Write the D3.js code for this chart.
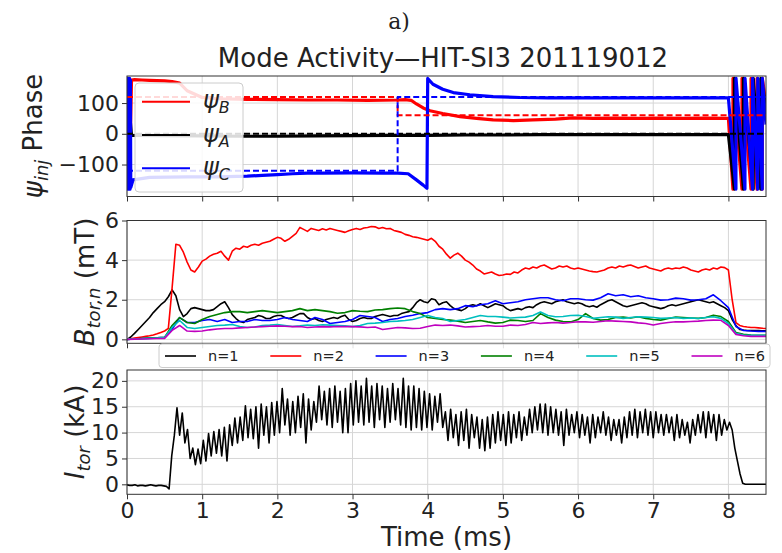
<!DOCTYPE html>
<html>
<head>
<meta charset="utf-8">
<script src="https://cdn.jsdelivr.net/npm/d3@7"></script>
<style>
  body { margin: 0; background: #fff; }
  svg { display: block; font-family: "DejaVu Sans", sans-serif; }
</style>
</head>
<body>
<div id="chart"></div>
<script>
// ---- values ----
const xTicks = [0, 1, 2, 3, 4, 5, 6, 7, 8];
const phaseTicks = [-100, 0, 100];
const bTicks = [0, 2, 4, 6];
const iTicks = [0, 5, 10, 15, 20];

// injector phases (deg), measured
const psiBTime = [0, 0.03, 0.06, 0.1, 0.2, 0.3, 0.4, 0.5, 0.6, 0.7,
  0.8, 1.0, 1.2, 1.6, 2.0, 2.4, 2.8, 3.2, 3.6, 3.7,
  3.78, 3.85, 3.94, 4.03, 4.2, 4.43, 4.65, 4.87, 5.14, 5.4,
  5.7, 5.93, 6.2, 6.5, 6.8, 7.1, 7.4, 7.7, 8.0, 8.06,
  8.061, 8.18, 8.181, 8.3, 8.301, 8.38, 8.381, 8.45, 8.451, 8.5];
const psiB = [-175, -170, 175, 176, 175, 174, 173, 172, 170, 165,
  140, 118, 114, 112, 111, 110, 110, 109, 110, 111,
  109, 97, 84, 75, 66, 56, 50, 45, 43, 45,
  48, 52, 50, 51, 50, 51, 50, 51, 50, -180,
  180, -180, 180, -180, 180, -180, 180, -180, 180, 100];

const psiATime = [0, 0.03, 0.06, 0.5, 1.0, 1.5, 2.0, 2.5, 3.0, 3.5,
  4.0, 4.5, 5.0, 5.5, 6.0, 6.5, 7.0, 7.5, 8.0, 8.08,
  8.081, 8.2, 8.201, 8.33, 8.331, 8.43, 8.431, 8.5];
const psiA = [-60, 80, -5, -6, -7, -8, -8, -7, -6, -5,
  -5, -4, -4, -3, -3, -3, -3, -3, -3, -180,
  180, -180, 180, -180, 180, -180, 180, 90];

const psiCTime = [0, 0.005, 0.01, 0.015, 0.02, 0.025, 0.03, 0.035, 0.04, 0.045,
  0.05, 0.08, 0.3, 0.8, 1.2, 1.6, 1.8, 2.0, 2.2, 2.4,
  2.6, 3.0, 3.4, 3.6, 3.74, 3.85, 3.94, 3.99, 4.0, 4.07,
  4.2, 4.34, 4.56, 4.87, 5.23, 5.6, 6.0, 6.5, 7.0, 7.5,
  8.0, 8.1, 8.101, 8.22, 8.221, 8.32, 8.321, 8.39, 8.391, 8.45,
  8.451, 8.5];
const psiC = [-180, 180, -180, 180, -180, 180, -180, 180, -180, 175,
  -175, -150, -142, -140, -140, -138, -135, -133, -130, -128,
  -128, -127, -128, -128, -130, -150, -167, -177, 180, 161,
  145, 134, 127, 121, 118, 117, 117, 117, 117, 117,
  117, -180, 180, -180, 180, -180, 180, -180, 180, -180,
  180, 30];

// programmed phases (dashed)
const psiBRefTime = [0, 3.6, 3.6, 8.5];
const psiBRef = [120, 120, 60, 60];
const psiARefTime = [0, 8.5];
const psiARef = [0, 0];
const psiCRefTime = [0, 3.6, 3.6, 8.5];
const psiCRef = [-120, -120, 120, 120];

// toroidal mode amplitudes (mT); n=1,2 sampled every 0.05 ms, n=3..6 every 0.1 ms
const bFineStep = 0.05;
const bCoarseStep = 0.1;
const bN1 = [
  0.0, 0.12, 0.3, 0.5, 0.7, 0.9, 1.1, 1.35, 1.55, 1.75, 1.9, 2.15, 2.5, 2.2, 1.5, 1.15, 1.3, 1.55, 1.6, 1.55,
  1.5, 1.45, 1.45, 1.5, 1.65, 1.8, 1.9, 1.6, 1.25, 1.05, 0.9, 0.85, 1.0, 1.05, 1.1, 1.2, 1.15, 1.05, 1.05, 1.15,
  1.2, 1.2, 1.1, 1.05, 1.1, 1.2, 1.3, 1.3, 1.1, 1.0, 1.05, 0.95, 0.9, 1.0, 1.05, 1.1, 1.05, 1.15, 1.22, 1.0,
  0.9, 0.95, 1.05, 1.1, 1.05, 1.05, 1.15, 1.2, 1.25, 1.2, 1.15, 1.2, 1.2, 1.3, 1.35, 1.4, 1.6, 1.85, 2.0, 1.9,
  1.85, 2.05, 2.0, 1.75, 1.85, 1.9, 1.7, 1.55, 1.5, 1.45, 1.55, 1.7, 1.75, 1.7, 1.8, 1.7, 1.6, 1.7, 1.8, 1.75,
  1.7, 1.55, 1.45, 1.5, 1.55, 1.5, 1.6, 1.65, 1.6, 1.75, 1.85, 1.9, 1.85, 1.8, 1.9, 1.95, 2.0, 1.9, 1.85, 1.8,
  1.85, 1.8, 1.7, 1.65, 1.7, 1.62, 1.75, 1.85, 1.95, 2.0, 1.9, 1.8, 1.7, 1.65, 1.7, 1.75, 1.8, 1.85, 1.8, 1.7,
  1.65, 1.6, 1.55, 1.6, 1.7, 1.75, 1.7, 1.75, 1.8, 1.85, 1.9, 1.95, 2.0, 1.95, 1.9, 1.85, 1.9, 1.8, 1.7, 1.6,
  1.45, 1.0, 0.7, 0.5, 0.47, 0.45, 0.45, 0.44, 0.44, 0.43, 0.43];
const bN2 = [
  0.0, 0.03, 0.06, 0.09, 0.12, 0.15, 0.18, 0.22, 0.28, 0.35, 0.42, 0.55, 2.6, 4.8, 4.75, 4.4, 3.9, 3.5, 3.4, 3.65,
  3.95, 4.05, 4.2, 4.3, 4.35, 4.45, 4.2, 4.0, 4.45, 4.6, 4.55, 4.7, 4.65, 4.75, 4.8, 4.75, 4.85, 4.9, 4.95, 5.05,
  5.15, 5.1, 4.95, 5.05, 5.2, 5.35, 5.65, 5.55, 5.45, 5.6, 5.55, 5.5, 5.58, 5.52, 5.6, 5.55, 5.5, 5.45, 5.4, 5.48,
  5.55, 5.6, 5.55, 5.62, 5.65, 5.7, 5.68, 5.6, 5.65, 5.58, 5.6, 5.5, 5.45, 5.4, 5.3, 5.25, 5.18, 5.15, 5.1, 5.05,
  5.0, 5.1, 4.95, 4.7, 4.55, 4.3, 4.1, 4.25, 4.35, 4.2, 4.0, 3.9, 3.75, 3.55, 3.45, 3.3, 3.35, 3.4, 3.3, 3.22,
  3.25, 3.3, 3.28, 3.4, 3.35, 3.5, 3.6, 3.55, 3.65, 3.6, 3.7, 3.75, 3.65, 3.55, 3.6, 3.7, 3.65, 3.7, 3.6, 3.55,
  3.6, 3.55, 3.5, 3.45, 3.42, 3.4, 3.45, 3.5, 3.6, 3.65, 3.6, 3.7, 3.65, 3.72, 3.75, 3.68, 3.6, 3.65, 3.7, 3.6,
  3.55, 3.5, 3.45, 3.55, 3.6, 3.55, 3.6, 3.58, 3.65, 3.6, 3.5, 3.45, 3.4, 3.5, 3.55, 3.5, 3.6, 3.55, 3.65, 3.62,
  3.5, 2.0, 0.85, 0.7, 0.65, 0.62, 0.6, 0.6, 0.58, 0.56, 0.55];
const bN3 = [
  0, 0.02, 0.04, 0.06, 0.08, 0.1, 0.5, 1.1, 0.85, 0.85,
  0.95, 1.0, 0.9, 1.0, 0.85, 0.9, 0.9, 1.0, 0.95, 0.95,
  1.0, 1.1, 1.0, 0.95, 0.9, 1.1, 1.0, 0.8, 0.85, 0.9,
  1.0, 1.2, 1.15, 1.1, 0.9, 1.0, 1.05, 1.15, 1.22, 1.3,
  1.35, 1.5, 1.55, 1.5, 1.55, 1.7, 1.65, 1.75, 1.8, 1.95,
  1.8, 1.85, 1.9, 2.0, 2.05, 2.1, 2.1, 2.0, 1.95, 2.05,
  2.05, 2.0, 1.98, 2.1, 2.3, 2.2, 2.25, 2.15, 2.2, 2.1,
  2.05, 1.98, 2.0, 2.08, 2.05, 1.98, 2.0, 2.05, 2.25, 1.95,
  1.6, 0.65, 0.45, 0.42, 0.4, 0.4];
const bN4 = [
  0, 0.02, 0.04, 0.06, 0.08, 0.1, 0.7, 1.1, 0.85, 0.8,
  1.0, 1.15, 1.25, 1.35, 1.4, 1.4, 1.35, 1.4, 1.45, 1.4,
  1.35, 1.4, 1.45, 1.55, 1.45, 1.5, 1.45, 1.4, 1.32, 1.35,
  1.45, 1.42, 1.4, 1.48, 1.5, 1.55, 1.58, 1.55, 1.4, 1.3,
  1.1, 1.05, 1.0, 0.97, 0.92, 0.85, 0.9, 0.95, 0.88, 0.82,
  0.85, 0.97, 0.95, 0.9, 0.95, 1.3, 1.1, 0.97, 0.9, 0.88,
  1.0, 1.3, 1.05, 0.97, 1.0, 1.1, 1.12, 1.08, 1.14, 1.06,
  1.0, 0.97, 1.05, 1.12, 1.1, 1.08, 1.06, 1.1, 1.22, 1.15,
  0.9, 0.35, 0.25, 0.22, 0.2, 0.2];
const bN5 = [
  0, 0.02, 0.03, 0.05, 0.07, 0.09, 0.6, 0.95, 0.6, 0.55,
  0.6, 0.65, 0.7, 0.72, 0.75, 0.65, 0.6, 0.62, 0.7, 0.72,
  0.75, 0.7, 0.65, 0.68, 0.72, 0.7, 0.74, 0.72, 0.7, 0.68,
  0.64, 0.7, 0.8, 0.82, 0.85, 0.9, 0.92, 0.95, 1.0, 1.1,
  1.2, 1.1, 1.05, 0.9, 0.95, 1.0, 1.1, 1.2, 1.15, 1.15,
  1.12, 1.08, 1.1, 1.12, 1.2, 1.38, 1.2, 1.14, 1.15, 1.2,
  1.22, 1.15, 1.06, 1.1, 1.14, 1.12, 1.06, 1.1, 1.14, 1.12,
  1.1, 1.06, 1.08, 1.1, 1.06, 1.08, 1.05, 1.1, 1.14, 1.06,
  0.8, 0.3, 0.22, 0.2, 0.2, 0.2];
const bN6 = [
  0, 0.01, 0.02, 0.03, 0.04, 0.05, 0.45, 0.7, 0.42, 0.4,
  0.42, 0.48, 0.52, 0.55, 0.55, 0.58, 0.6, 0.62, 0.64, 0.66,
  0.68, 0.66, 0.64, 0.65, 0.6, 0.62, 0.64, 0.63, 0.65, 0.64,
  0.64, 0.63, 0.6, 0.62, 0.5, 0.55, 0.6, 0.58, 0.55, 0.56,
  0.65, 0.72, 0.7, 0.72, 0.68, 0.62, 0.64, 0.66, 0.7, 0.66,
  0.66, 0.72, 0.7, 0.75, 0.85, 0.8, 0.83, 0.85, 0.82, 0.85,
  0.89, 0.88, 0.86, 0.9, 0.94, 0.92, 0.9, 0.88, 0.83, 0.8,
  0.72, 0.8, 0.85, 0.89, 0.88, 0.9, 0.92, 0.95, 0.97, 0.96,
  0.7, 0.25, 0.18, 0.15, 0.15, 0.15];
const modeNames = ["n=1", "n=2", "n=3", "n=4", "n=5", "n=6"];
const modeColors = ["#000000", "#ff0000", "#0000ff", "#008000", "#00bfbf", "#bf00bf"];

// toroidal current (kA), sampled every 0.035 ms from t = 0
const itorStep = 0.035;
const itor = [
  -0.1, -0.2, -0.2, -0.1, -0.3, -0.2, -0.2, -0.3, -0.2, -0.1, -0.2, -0.3, -0.2, -0.2, -0.3, -0.4,
  -0.9,
  5.5, 9.5, 14.8, 9.5, 13.8, 8.0, 10.6, 5.0, 7.0, 3.8, 6.8, 4.0,
  8.5, 4.5, 9.8, 5.5, 10.2, 6.0, 10.6, 5.5, 11.0, 4.5, 11.5, 7.5, 12.8, 8.0, 13.0, 8.5, 15.2, 9.0, 14.5, 8.8, 15.0, 7.0, 15.5, 9.5, 15.0, 8.0, 15.8, 9.5, 16.0, 10.0,
  18.5, 11.5, 16.5, 9.5, 16.0, 10.0, 17.0, 11.0, 17.5, 8.0, 16.5, 10.5, 16.0, 12.0, 19.0, 12.5, 18.0, 11.5, 18.5, 11.0, 19.0, 12.0, 18.0, 10.0, 18.5, 10.0, 19.5, 11.5, 20.0, 12.0,
  19.0, 11.5, 20.5, 12.0, 19.0, 11.0, 19.5, 12.5, 19.0, 11.0, 18.5, 12.0, 19.5, 12.5, 18.5, 11.5, 20.5, 11.0, 19.0, 10.5, 19.0, 11.0, 18.5, 10.5, 18.0, 11.0, 17.5, 10.5, 17.0, 12.0,
  17.5, 11.0, 14.0, 8.5, 14.5, 9.0, 13.5, 7.5, 14.0, 8.5, 14.5, 7.0, 13.5, 9.0, 13.0, 7.0, 12.5, 6.5, 13.0, 7.0, 13.5, 8.0, 14.0, 8.5, 13.5, 7.5, 14.0, 8.0, 13.5, 9.0,
  14.0, 8.5, 13.0, 9.5, 14.5, 10.0, 15.0, 10.5, 15.5, 10.0, 15.5, 9.5, 15.0, 10.0, 14.5, 9.5, 14.0, 7.5, 14.5, 9.5, 13.5, 10.0, 14.0, 9.0, 13.5, 9.5, 13.0, 8.0, 13.5, 9.0,
  13.0, 10.0, 14.0, 9.5, 13.0, 8.5, 12.5, 9.5, 12.5, 8.0, 13.0, 9.0, 14.0, 9.5, 14.5, 9.0, 14.0, 10.0, 14.5, 9.5, 14.0, 9.0, 14.0, 10.0, 13.5, 9.5, 13.5, 10.0, 13.0, 8.5,
  13.5, 9.0, 12.5, 9.5, 12.0, 8.0, 12.5, 9.5, 13.5, 10.0, 14.0, 9.0, 14.0, 10.0, 13.5, 8.5, 13.5, 9.5, 12.5, 10.5, 12.0, 10.5, 7.0, 4.5, 2.0, 0.2,
  0, 0, 0, 0, 0, 0, 0, 0, 0];

// ---- layout ----
const W = 782, H = 553;
const x = d3.scaleLinear().domain([0, 8.5]).range([127, 766]);
const svg = d3.select("#chart").append("svg").attr("width", W).attr("height", H);

const zip = (ts, vs) => vs.map((v, i) => [ts[i], v]);
const onGrid = (step, vs) => vs.map((v, i) => [i * step, v]);

function drawPanel(id, top, bottom, domain, ticks, showX) {
  const y = d3.scaleLinear().domain(domain).range([bottom, top]);
  const g = svg.append("g");
  g.append("clipPath").attr("id", id)
    .append("rect").attr("x", x.range()[0]).attr("y", top)
    .attr("width", x.range()[1] - x.range()[0]).attr("height", bottom - top);
  g.selectAll(".gx").data(xTicks).join("line").attr("class", "gx")
    .attr("x1", d => x(d)).attr("x2", d => x(d)).attr("y1", top).attr("y2", bottom)
    .attr("stroke", "#d6d6d6");
  g.selectAll(".gy").data(ticks).join("line").attr("class", "gy")
    .attr("x1", x.range()[0]).attr("x2", x.range()[1]).attr("y1", d => y(d)).attr("y2", d => y(d))
    .attr("stroke", "#d6d6d6");
  const ya = g.append("g").attr("transform", `translate(${x.range()[0]},0)`)
    .call(d3.axisLeft(y).tickValues(ticks).tickSize(5).tickPadding(3).tickFormat(d3.format("d")));
  const xa = g.append("g").attr("transform", `translate(0,${bottom})`)
    .call(d3.axisBottom(x).tickValues(xTicks).tickSize(5).tickPadding(3)
      .tickFormat(showX ? d3.format("d") : () => ""));
  [ya, xa].forEach(a => {
    a.select(".domain").remove();
    a.attr("font-size", 22).attr("font-family", "DejaVu Sans, sans-serif");
    a.selectAll("line").attr("stroke", "#333");
    a.selectAll("text").attr("fill", "#222");
  });
  const lines = g.append("g").attr("clip-path", `url(#${id})`);
  const frame = () => g.append("rect").attr("x", x.range()[0]).attr("y", top)
    .attr("width", x.range()[1] - x.range()[0]).attr("height", bottom - top)
    .attr("fill", "none").attr("stroke", "#333").attr("stroke-width", 1);
  return { y, lines, frame };
}

function addLine(p, pts, color, width, dash) {
  const line = d3.line().x(d => x(d[0])).y(d => p.y(d[1]));
  p.lines.append("path").datum(pts).attr("d", line)
    .attr("fill", "none").attr("stroke", color).attr("stroke-width", width)
    .attr("stroke-linejoin", "round")
    .attr("stroke-dasharray", dash || null);
}

// panel 1: phase
const p1 = drawPanel("c1", 76, 196.5, [-204, 188], phaseTicks, false);
addLine(p1, zip(psiBTime, psiB), "#ff0000", 3.2);
addLine(p1, zip(psiATime, psiA), "#000000", 3.2);
addLine(p1, zip(psiCTime, psiC), "#0000ff", 3.2);
addLine(p1, zip(psiBRefTime, psiBRef), "#ff0000", 2, "6,3");
addLine(p1, zip(psiARefTime, psiARef), "#000000", 2, "6,3");
addLine(p1, zip(psiCRefTime, psiCRef), "#0000ff", 2, "6,3");
p1.frame();

// panel 2: mode amplitudes
const p2 = drawPanel("c2", 220.5, 343.3, [-0.2, 6.0], bTicks, false);
const bSeries = [onGrid(bFineStep, bN1), onGrid(bFineStep, bN2), onGrid(bCoarseStep, bN3),
  onGrid(bCoarseStep, bN4), onGrid(bCoarseStep, bN5), onGrid(bCoarseStep, bN6)];
bSeries.forEach((s, i) => addLine(p2, s, modeColors[i], 1.6));
p2.frame();

// panel 3: toroidal current
const p3 = drawPanel("c3", 370, 494.3, [-1.93, 22.1], iTicks, true);
addLine(p3, onGrid(itorStep, itor), "#000000", 1.6);
p3.frame();

// ---- legends ----
const leg1 = svg.append("g");
leg1.append("rect").attr("x", 135).attr("y", 83).attr("width", 108).attr("height", 109)
  .attr("rx", 4).attr("fill", "#fff").attr("fill-opacity", 0.85).attr("stroke", "#ccc");
[["B", "#ff0000", 101.7], ["A", "#000000", 135], ["C", "#0000ff", 168.3]].forEach(([s, c, cy]) => {
  leg1.append("line").attr("x1", 142).attr("x2", 190).attr("y1", cy).attr("y2", cy)
    .attr("stroke", c).attr("stroke-width", 2);
  const t = leg1.append("text").attr("x", 203).attr("y", cy + 6.5)
    .attr("font-size", 24).attr("font-style", "italic").attr("fill", "#222");
  t.append("tspan").text("ψ");
  t.append("tspan").attr("font-size", 16).attr("dy", 5).text(s);
});

const leg2 = svg.append("g");
leg2.append("rect").attr("x", 159).attr("y", 344).attr("width", 611).attr("height", 23.5)
  .attr("rx", 3).attr("fill", "#fff").attr("fill-opacity", 0.85).attr("stroke", "#ccc");
modeNames.forEach((n, i) => {
  const x0 = 165 + i * 105.3;
  leg2.append("line").attr("x1", x0).attr("x2", x0 + 31).attr("y1", 356).attr("y2", 356)
    .attr("stroke", modeColors[i]).attr("stroke-width", 1.6);
  leg2.append("text").attr("x", x0 + 43).attr("y", 356).attr("dy", "0.36em")
    .attr("font-size", 14.5).attr("fill", "#222").text(n);
});

// ---- titles and axis labels ----
svg.append("text").attr("x", 399).attr("y", 29).attr("text-anchor", "middle")
  .attr("font-family", "DejaVu Serif, serif").attr("font-size", 22).attr("fill", "#222").text("a)");
svg.append("text").attr("x", 443).attr("y", 67).attr("text-anchor", "middle")
  .attr("font-size", 26).attr("fill", "#222").text("Mode Activity—HIT-SI3 201119012");
svg.append("text").attr("x", 446.5).attr("y", 546).attr("text-anchor", "middle")
  .attr("font-size", 26).attr("fill", "#222").text("Time (ms)");

function yLabel(cx, cy, sym, sub, rest) {
  const t = svg.append("text").attr("transform", `translate(${cx},${cy}) rotate(-90)`)
    .attr("text-anchor", "middle").attr("font-size", 26).attr("fill", "#222");
  t.append("tspan").attr("font-style", "italic").text(sym);
  t.append("tspan").attr("font-style", "italic").attr("font-size", 18).attr("dy", 6).text(sub);
  t.append("tspan").attr("dy", -6).text(rest);
}
yLabel(42, 136, "ψ", "inj", " Phase");
yLabel(94, 282, "B", "tor,n", " (mT)");
yLabel(84, 432, "I", "tor", " (kA)");
</script>
</body>
</html>
